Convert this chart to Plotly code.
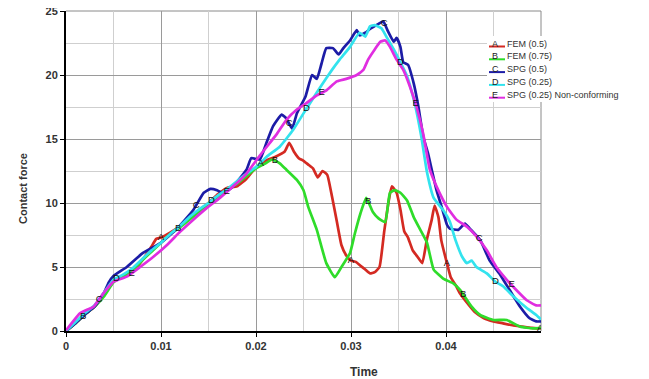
import numpy as np
import plotly.graph_objects as go

# ---------------- data ----------------
series_names = ["FEM (0.5)", "FEM (0.75)", "SPG (0.5)", "SPG (0.25)", "SPG (0.25) Non-conforming"]
series_letters = ["A", "B", "C", "D", "E"]
series_colors = ["#d42a22", "#2fdc2a", "#1c1ca6", "#33e3ee", "#e02ee0"]

t_A = [0, 0.001, 0.002, 0.003, 0.004, 0.005, 0.006, 0.007, 0.008, 0.009,
       0.0095, 0.010, 0.011, 0.012, 0.013, 0.014, 0.015, 0.016, 0.017, 0.018,
       0.019, 0.020, 0.021, 0.022, 0.023, 0.0235, 0.024, 0.0245, 0.025, 0.0255,
       0.026, 0.0265, 0.027, 0.0275, 0.028, 0.0285, 0.029, 0.0295, 0.030, 0.0305,
       0.031, 0.0315, 0.032, 0.0325, 0.033, 0.0335, 0.034, 0.0343, 0.0348, 0.0352,
       0.0356, 0.036, 0.0365, 0.037, 0.0375, 0.038, 0.0385, 0.0388, 0.0392, 0.0395,
       0.0401, 0.0405, 0.041, 0.0415, 0.042, 0.043, 0.044, 0.045, 0.046, 0.047,
       0.048, 0.049, 0.050]
f_A = [0, 0.6, 1.3, 1.9, 2.8, 3.9, 4.2, 4.6, 5.5, 6.6,
       7.2, 7.3, 7.7, 8.2, 8.8, 9.4, 10.0, 10.7, 11.2, 11.3,
       11.9, 12.8, 13.3, 13.6, 14.0, 14.7, 14.0, 13.5, 13.3, 13.0,
       12.7, 12.0, 12.5, 12.2, 10.5, 8.6, 6.7, 5.9, 5.5, 5.4,
       5.1, 4.8, 4.5, 4.6, 5.0, 7.8, 10.3, 11.3, 10.8, 9.5,
       7.8, 7.3, 6.3, 5.8, 5.3, 7.2, 8.7, 9.8, 8.9, 7.1,
       5.3, 4.2, 3.6, 2.9, 2.4, 1.5, 1.0, 0.75, 0.6, 0.45,
       0.35, 0.25, 0.2]

t_B = [0, 0.001, 0.002, 0.003, 0.004, 0.005, 0.006, 0.007, 0.008, 0.009,
       0.010, 0.011, 0.012, 0.013, 0.014, 0.015, 0.016, 0.017, 0.018, 0.019,
       0.020, 0.021, 0.0217, 0.0225, 0.0232, 0.0243, 0.025, 0.0255, 0.0264, 0.0274,
       0.0283, 0.029, 0.0299, 0.0304, 0.031, 0.0316, 0.0323, 0.0329, 0.0336, 0.0341,
       0.0346, 0.0352, 0.0359, 0.0366, 0.0373, 0.038, 0.0387, 0.0397, 0.0408, 0.0415,
       0.0427, 0.0436, 0.045, 0.0464, 0.0478, 0.0492, 0.050]
f_B = [0, 0.6, 1.3, 1.9, 2.7, 3.8, 4.3, 4.7, 5.5, 6.2,
       6.9, 7.6, 8.1, 8.7, 9.3, 9.9, 10.5, 11.1, 11.5, 12.1,
       12.7, 13.1, 13.4, 13.1, 12.6, 11.8, 11.0, 9.7, 7.9, 5.3,
       4.2, 5.0, 6.1, 7.6, 9.2, 10.4, 9.3, 8.8, 8.5, 10.8,
       11.0, 10.8, 10.2, 8.9, 7.9, 6.9, 4.8, 4.1, 3.7, 3.2,
       1.9, 1.25, 0.86, 0.86, 0.34, 0.2, 0.25]

t_C = [0, 0.001, 0.002, 0.003, 0.004, 0.0045, 0.005, 0.0064, 0.0081, 0.0099,
       0.0117, 0.0134, 0.0145, 0.0152, 0.0159, 0.0166, 0.0176, 0.019, 0.0195, 0.0204,
       0.0211, 0.0218, 0.0227, 0.0232, 0.0238, 0.0243, 0.0252, 0.0259, 0.0264, 0.0269,
       0.0274, 0.0281, 0.0287, 0.0292, 0.0299, 0.0306, 0.0309, 0.0315, 0.032, 0.0329,
       0.0334, 0.0339, 0.0345, 0.0348, 0.0352, 0.0355, 0.036, 0.0366, 0.0371, 0.0376,
       0.0381, 0.0385, 0.039, 0.0395, 0.0401, 0.0404, 0.0413, 0.042, 0.0425, 0.0436,
       0.0446, 0.0457, 0.0467, 0.0478, 0.0488, 0.0495, 0.050]
f_C = [0, 0.6, 1.3, 1.9, 3.0, 3.8, 4.3, 5.0, 6.1, 6.85,
       8.0, 9.45, 10.8, 11.1, 11.0, 10.75, 11.3, 12.6, 13.5, 13.4,
       14.7, 16.0, 16.9, 16.6, 15.8, 17.0, 18.3, 20.0, 19.7, 20.9,
       22.1, 22.1, 21.6, 22.1, 22.7, 23.5, 23.1, 23.3, 23.6, 24.0,
       24.2, 23.4, 22.6, 22.9, 22.2, 21.0, 20.8, 19.35, 17.5, 15.2,
       13.9, 12.6, 11.0, 9.8, 8.3, 8.0, 7.9, 8.4, 8.0, 7.1,
       5.5, 4.4, 3.2, 1.9, 1.0, 0.75, 0.75]

t_D = [0, 0.001, 0.002, 0.003, 0.004, 0.005, 0.006, 0.007, 0.008, 0.009,
       0.010, 0.011, 0.012, 0.013, 0.014, 0.015, 0.016, 0.017, 0.018, 0.019,
       0.020, 0.0211, 0.0225, 0.0239, 0.025, 0.0259, 0.0269, 0.028, 0.0288, 0.0299,
       0.0309, 0.0315, 0.032, 0.0325, 0.0332, 0.0338, 0.0345, 0.0352, 0.0359, 0.0367,
       0.0374, 0.038, 0.0387, 0.0397, 0.0404, 0.041, 0.0417, 0.0422, 0.0427, 0.0432,
       0.0443, 0.0452, 0.046, 0.0471, 0.0485, 0.0495, 0.050]
f_D = [0, 0.7, 1.4, 2.0, 3.0, 4.0, 4.4, 4.9, 5.6, 6.3,
       6.9, 7.6, 8.2, 8.9, 9.5, 10.0, 10.6, 11.1, 11.7, 12.3,
       12.8, 13.6, 14.4, 15.7, 17.0, 18.05, 19.2, 20.4, 21.2, 22.2,
       23.3, 23.0, 23.8, 23.9, 23.65, 22.9, 22.0, 21.0, 19.9, 17.8,
       15.2, 12.4, 10.4, 9.45, 8.55, 7.1, 5.8, 5.3, 5.5, 5.0,
       4.5, 3.85, 3.5, 2.7, 1.8, 1.25, 0.9]

t_E = [0, 0.0015, 0.0029, 0.0039, 0.005, 0.0064, 0.0078, 0.0092, 0.0106, 0.012,
       0.0134, 0.0148, 0.0162, 0.0176, 0.019, 0.0204, 0.0222, 0.0232, 0.0243, 0.0253,
       0.0264, 0.0274, 0.0285, 0.0295, 0.0306, 0.0313, 0.0318, 0.0325, 0.0331, 0.0336,
       0.0341, 0.0348, 0.0355, 0.0362, 0.0369, 0.0376, 0.0383, 0.039, 0.0401, 0.0411,
       0.0422, 0.0432, 0.0443, 0.0453, 0.0464, 0.0474, 0.0485, 0.0495, 0.050]
f_E = [0.05, 1.4, 1.9, 2.9, 3.85, 4.25, 5.0, 5.8, 6.7, 7.75,
       8.7, 9.6, 10.4, 11.3, 12.3, 13.7, 15.4, 16.5, 17.3, 17.8,
       18.4, 18.8, 19.5, 19.7, 20.0, 20.4, 21.2, 22.0, 22.6, 22.7,
       22.2, 21.2, 20.4, 19.1, 17.5, 15.4, 12.6, 11.3, 9.7, 8.7,
       8.15, 7.4, 6.3, 5.0, 4.0, 3.2, 2.4, 2.0, 2.0]

# curve-label positions (time of each letter marker, per series)
label_t_A = [0.0100, 0.0205, 0.0300, 0.0401, 0.0499]
label_t_B = [0.0018, 0.0118, 0.0220, 0.0318, 0.0418]
label_t_C = [0.0035, 0.0137, 0.0235, 0.0335, 0.0435]
label_t_D = [0.0053, 0.0153, 0.0253, 0.0352, 0.0452]
label_t_E = [0.0069, 0.0169, 0.0269, 0.0368, 0.0469]

x_tick_vals = [0, 0.01, 0.02, 0.03, 0.04]
x_tick_text = ["0", "0.01", "0.02", "0.03", "0.04"]
y_tick_vals = [0, 5, 10, 15, 20, 25]

# ---------------- figure ----------------
# page is offset by the 8px body margin, so geometry is given in figure px
W, H = 641, 371
ML, MR, MT, MB = 58, 108, 3, 48
PW, PH = W - ML - MR, H - MT - MB


def px2paper(X, Y):
    """page pixel -> paper coords (page = figure + 8px body margin)"""
    return (X - 8 - ML) / PW, 1 - (Y - 8 - MT) / PH


ts = [t_A, t_B, t_C, t_D, t_E]
fs = [f_A, f_B, f_C, f_D, f_E]
lts = [label_t_A, label_t_B, label_t_C, label_t_D, label_t_E]

fig = go.Figure()
for name, col, t, f in zip(series_names, series_colors, ts, fs):
    fig.add_trace(go.Scatter(x=t, y=f, mode="lines", name=name, showlegend=False,
                             line=dict(color=col, width=2.7, shape="spline", smoothing=0.4)))

for letter, t, f, lt in zip(series_letters, ts, fs, lts):
    ly = np.interp(lt, t, f)
    fig.add_trace(go.Scatter(x=lt, y=ly, mode="text", text=[letter] * len(lt),
                             textposition="middle center", showlegend=False,
                             textfont=dict(family="Liberation Sans, Arial", size=9.5, color="#111")))

axis_font = dict(family="Liberation Sans, Arial", size=11, color="#333", weight="bold")
fig.update_xaxes(range=[0, 0.05], tickvals=x_tick_vals, ticktext=x_tick_text,
                 showgrid=True, gridcolor="#9a9a9a", gridwidth=1,
                 minor=dict(dtick=0.005, tick0=0, showgrid=True, gridcolor="#cfcfcf", gridwidth=1),
                 showline=True, linecolor="black", linewidth=2,
                 ticks="outside", ticklen=4, tickcolor="black", tickfont=axis_font,
                 zeroline=False, automargin=False, ticklabeloverflow="allow")
fig.update_yaxes(range=[0, 25], tickvals=y_tick_vals,
                 showgrid=True, gridcolor="#9a9a9a", gridwidth=1,
                 minor=dict(dtick=2.5, tick0=0, showgrid=True, gridcolor="#cfcfcf", gridwidth=1),
                 showline=True, linecolor="black", linewidth=2,
                 ticks="outside", ticklen=4, tickcolor="black", tickfont=axis_font,
                 zeroline=False, automargin=False, ticklabeloverflow="allow")

# right and top borders
fig.add_shape(type="line", xref="paper", yref="paper", x0=1, x1=1, y0=0, y1=1,
              line=dict(color="#8a8a8a", width=1), layer="below")
fig.add_shape(type="line", xref="paper", yref="paper", x0=0, x1=1, y0=1, y1=1,
              line=dict(color="#8a8a8a", width=1), layer="below")

# manual legend with white background
lx0, ly0 = px2paper(487, 36)
lx1, ly1 = px2paper(643, 102)
fig.add_shape(type="rect", xref="paper", yref="paper", x0=lx0, x1=lx1, y0=ly1, y1=ly0,
              fillcolor="white", line=dict(width=0), layer="above")
for i, (name, letter, col) in enumerate(zip(series_names, series_letters, series_colors)):
    row_y = 43.5 + i * 12.8
    sx0, sy = px2paper(489, row_y + 3)
    sx1, _ = px2paper(505, row_y + 3)
    fig.add_shape(type="line", xref="paper", yref="paper", x0=sx0, x1=sx1, y0=sy, y1=sy,
                  line=dict(color=col, width=2), layer="above")
    lxl, lyl = px2paper(495, row_y)
    fig.add_annotation(text=letter, xref="paper", yref="paper", x=lxl, y=lyl,
                       showarrow=False, xanchor="center", yanchor="middle",
                       font=dict(family="Liberation Sans, Arial", size=9, color="#222"))
    tx, ty = px2paper(505, row_y)
    fig.add_annotation(text=name, xref="paper", yref="paper", x=tx, y=ty,
                       showarrow=False, xanchor="left", yanchor="middle",
                       font=dict(family="Liberation Sans, Arial", size=9, color="#333"))

tx, ty = px2paper(364, 372)
fig.add_annotation(text="Time", xref="paper", yref="paper", x=tx, y=ty,
                   showarrow=False, yanchor="middle", xanchor="center",
                   font=dict(family="Liberation Sans, Arial", size=12, color="#333", weight="bold"))
tx, ty = px2paper(23, 189)
fig.add_annotation(text="Contact force", xref="paper", yref="paper", x=tx, y=ty,
                   showarrow=False, textangle=-90, xanchor="center", yanchor="middle",
                   font=dict(family="Liberation Sans, Arial", size=11, color="#333", weight="bold"))

fig.update_layout(
    width=W, height=H,
    margin=dict(l=ML, r=MR, t=MT, b=MB),
    paper_bgcolor="white", plot_bgcolor="white",
    showlegend=False,
)

fig.write_html("out.html")
